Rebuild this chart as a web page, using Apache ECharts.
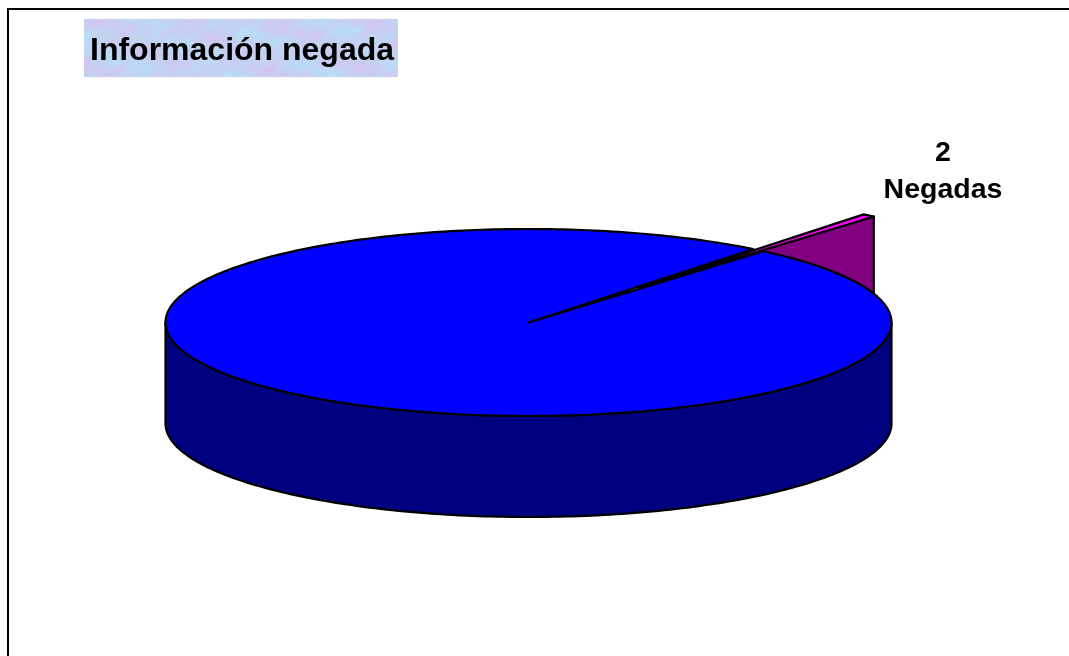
<!DOCTYPE html>
<html>
<head>
<meta charset="utf-8">
<style>html,body{margin:0;padding:0;background:#fff;overflow:hidden}#c{width:1069px;height:656px}</style>
<script src="https://cdn.jsdelivr.net/npm/echarts@6/dist/echarts.min.js"></script>
</head>
<body>
<div id="c"></div>
<script>
// Data
var titleText = 'Información negada';
var categories = ['Negadas', 'Otras'];
var values = [2, 348];
var labelled = ['Negadas'];

// Layout of the pie
var CX = 528.5, CY = 322.5, RX = 363, RY = 93.5, DEPTH = 101;
var SLICE_MID_DEG = 50.7, EXPLODE = 0.48;
var total = values.reduce(function (a, b) { return a + b; }, 0);

function pt(deg, r, ox, oy, dy) {
  var a = deg * Math.PI / 180;
  return [CX + (ox || 0) * RX + r * RX * Math.cos(a), CY - (oy || 0) * RY - r * RY * Math.sin(a) + (dy || 0)];
}
var STROKE = { stroke: '#000', lineWidth: 2.2, lineJoin: 'round' };
function poly(points, fill) {
  return { type: 'polygon', shape: { points: points }, style: Object.assign({ fill: fill }, STROKE) };
}
function renderItem(params, api) {
  var sweep = api.value(0) / total * 360;
  var name = categories[params.dataIndex];
  var children = [];
  if (params.dataIndex === 0) {
    var a1 = SLICE_MID_DEG - sweep / 2, a2 = SLICE_MID_DEG + sweep / 2;
    var m = SLICE_MID_DEG * Math.PI / 180;
    var ox = EXPLODE * Math.cos(m), oy = EXPLODE * Math.sin(m);
    var apex = pt(0, 0, ox, oy), e1 = pt(a1, 1, ox, oy), e2 = pt(a2, 1, ox, oy);
    children.push(poly([apex, e1, [e1[0], e1[1] + DEPTH], [apex[0], apex[1] + DEPTH]], '#800080'));
    children.push(poly([apex, e1, e2], '#ff00ff'));
    if (labelled.indexOf(name) >= 0) {
      children.push({ type: 'text', style: { x: 943, y: 153, text: String(api.value(0)), fill: '#000',
        font: 'bold 28.5px "Liberation Sans"', align: 'center', verticalAlign: 'middle' } });
      children.push({ type: 'text', style: { x: 943, y: 190, text: name, fill: '#000',
        font: 'bold 28.5px "Liberation Sans"', align: 'center', verticalAlign: 'middle' } });
    }
  } else {
    var gap = 360 - sweep;
    var start = SLICE_MID_DEG + gap / 2, i, top = [[CX, CY]], wall = [];
    for (i = 0; i <= 360; i++) top.push(pt(start + sweep * i / 360, 1));
    for (i = 0; i <= 180; i++) wall.push(pt(180 + i, 1, 0, 0, DEPTH));
    for (i = 180; i >= 0; i--) wall.push(pt(180 + i, 1));
    children.push(poly(wall, '#000080'));
    children.push(poly(top, '#0000ff'));
  }
  return { type: 'group', children: children };
}

// Pale mottled backdrop of the title
function titleTexture(w, h) {
  var c = document.createElement('canvas'); c.width = w; c.height = h;
  var g = c.getContext('2d');
  for (var y = 0; y < h; y++) for (var x = 0; x < w; x++) {
    var n = Math.sin(x * .13 + y * .19) + Math.sin(x * .047 - y * .27 + 1.3) + Math.sin(x * .37 + y * .11 + 2.1) * .6 + Math.sin(x * .71 - y * .63) * .4;
    var v = Math.sin(x * .07 - y * .12 + 4) + Math.sin(x * .29 + y * .41) * .5;
    g.fillStyle = 'rgb(' + Math.round(196 + n * 3 - v * 5) + ',' + Math.round(209 - n * 3 + v * 5) + ',' + Math.round(242 + v * 2) + ')';
    g.fillRect(x, y, 1, 1);
  }
  return c;
}

var chart = echarts.init(document.getElementById('c'), null, { renderer: 'canvas' });
chart.setOption({
  animation: false,
  backgroundColor: '#fff',
  title: {
    text: titleText, left: 85, top: 30, z: 10,
    textStyle: { fontFamily: 'Liberation Sans', fontWeight: 'bold', fontSize: 32, color: '#000' }
  },
  graphic: [
    { type: 'polyline', z: 1, silent: true,
      shape: { points: [[8, 660], [8, 9], [1075, 9]] },
      style: { stroke: '#000', lineWidth: 2, fill: null } },
    { type: 'image', z: 1, silent: true, x: 84, y: 19,
      style: { image: titleTexture(314, 58), x: 0, y: 0, width: 314, height: 58 } }
  ],
  series: [{
    type: 'custom', coordinateSystem: 'none', silent: true, z: 5,
    renderItem: renderItem,
    data: values.map(function (v, i) { return { name: categories[i], value: v }; })
  }]
});
</script>
</body>
</html>
